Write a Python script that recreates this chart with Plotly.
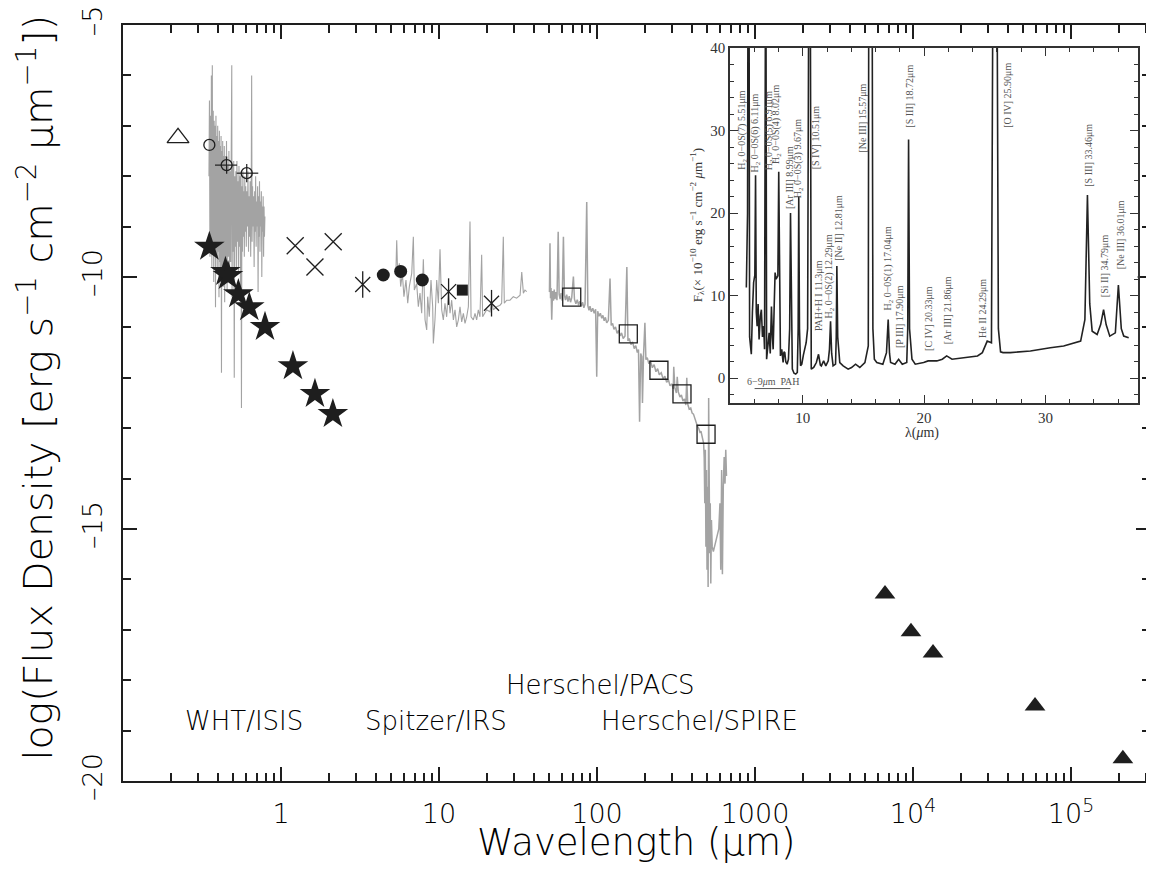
import plotly.graph_objects as go

# ---------------- main SED data ----------------
# optical (WHT/ISIS) spectrum: wavelength [um], log flux
opt_wl = [0.3500,0.3525,0.3550,0.3575,0.3600,0.3625,0.3650,0.3675,0.3700,0.3725,0.3750,0.3775,0.3800,0.3825,0.3850,0.3875,0.3900,0.3925,0.3950,0.3975,0.4000,0.4025,0.4050,0.4075,0.4100,0.4125,0.4150,0.4175,0.4200,0.4225,0.4250,0.4275,0.4300,0.4325,0.4350,0.4375,0.4400,
          0.444,0.448,0.452,0.456,0.460,0.464,0.468,0.472,0.476,0.480,0.484,0.488,0.490,0.494,0.498,0.502,0.506,0.510,0.514,0.518,0.522,0.526,0.530,0.534,0.538,0.542,0.546,0.550,0.554,0.558,0.562,0.566,0.570,0.574,0.578,0.582,0.586,0.590,0.594,0.598,
          0.603,0.608,0.613,0.618,0.623,0.628,0.633,0.638,0.643,0.648,0.652,0.656,0.661,0.666,0.671,0.676,0.681,0.686,0.691,0.696,0.701,0.706,0.711,0.716,0.721,0.726,0.731,0.736,0.741,0.746,0.751,0.756,0.761,0.766,0.771,0.776,0.781,0.786,0.791]
opt_flux = [-8.0,-6.5,-9.6,-6.8,-9.3,-6.0,-9.8,-5.8,-9.5,-6.7,-10.1,-6.9,-9.4,-7.0,-10.6,-6.8,-9.6,-7.2,-9.9,-7.0,-9.5,-7.3,-10.4,-7.1,-9.7,-7.4,-9.9,-7.2,-11.9,-7.5,-9.8,-7.3,-10.2,-7.6,-9.9,-7.4,-10.5,
            -7.6,-9.8,-7.3,-10.3,-7.8,-9.6,-7.5,-10.1,-7.9,-9.7,-7.6,-5.8,-10.4,-7.8,-9.5,-7.7,-12.0,-8.0,-9.4,-7.9,-9.8,-7.7,-9.3,-8.1,-9.9,-7.8,-9.4,-8.0,-10.2,-7.9,-12.6,-8.2,-9.5,-7.9,-9.2,-8.3,-9.6,-8.0,-9.1,-8.2,
            -9.4,-8.3,-9.0,-7.9,-9.5,-8.4,-9.2,-8.1,-9.6,-8.3,-6.0,-9.3,-8.2,-9.0,-8.4,-9.8,-8.3,-9.1,-8.0,-9.4,-8.5,-9.0,-8.2,-10.3,-8.4,-9.2,-8.1,-9.5,-8.5,-9.0,-8.3,-10.0,-8.6,-9.1,-8.4,-9.6,-8.6,-9.2,-8.8]

# Spitzer/IRS spectrum
irs_wl = [5.34,5.40,5.48,5.61,5.72,5.86,6.00,6.18,6.34,6.49,6.72,6.88,6.98,7.22,7.40,7.58,7.77,7.96,8.16,8.36,
          8.48,8.68,8.90,9.12,9.21,9.43,9.67,9.91,10.15,10.40,10.65,10.91,11.18,11.46,11.74,12.03,12.33,12.63,12.94,13.26,
          13.58,13.92,14.26,14.61,14.97,15.34,15.71,15.95,16.49,16.90,17.31,17.74,18.17,18.62,18.89,19.55,20.03,21.03,21.54,22.07,
          23.18,24.32,24.92,25.53,25.9,26.82,28.14,29.53,31.0,32.6,33.4,34.2,35.0,35.9]
irs_flux = [-9.86,-9.27,-9.99,-9.73,-10.19,-9.93,-10.39,-10.06,-10.52,-10.19,-9.93,-9.20,-10.26,-10.13,-10.59,-10.32,-10.72,-9.65,-10.85,-11.05,
            -10.39,-10.79,-10.06,-10.59,-11.32,-10.85,-10.06,-10.52,-9.45,-10.65,-10.85,-10.52,-10.79,-10.29,-10.72,-10.46,-10.85,-10.65,-10.99,-10.85,
            -10.59,-10.89,-10.72,-10.92,-10.79,-10.59,-8.90,-10.79,-10.85,-10.72,-10.85,-10.65,-10.79,-9.56,-10.79,-10.72,-10.65,-10.69,-10.49,-10.65,
            -10.59,-10.56,-10.52,-9.20,-10.52,-10.46,-10.46,-10.39,-10.42,-10.36,-9.90,-10.32,-10.26,-10.29]

# Herschel PACS + SPIRE spectrum
fir_wl = [50.0,50.4,50.8,51.2,51.7,52.3,53.0,53.6,54.2,55.0,55.8,56.8,57.6,58.4,59.3,60.2,61.3,62.2,63.2,64.3,65.5,66.7,68.0,69.2,70.9,72.0,73.5,75.0,76.5,78.0,79.5,81.0,82.6,84.0,86.1,87.5,89.0,90.3,92.0,94.0,96.0,98.0,99.6,101.0,103.0,105.0,107.2,109.0,111.0,113.0,115.2,118.0,120.9,123.0,125.5,128.0,131.0,134.0,137.0,140.0,143.0,146.5,150.4,154.5,157.0,160.0,164.0,168.0,172.0,176.0,180.0,183.0,186.0,189.0,192.0,194.0,197.0,201.0,204.0,208.0,213.0,218.0,224.0,230.0,236.0,242.0,248.0,255.0,262.0,269.0,276.0,283.0,290.0,297.0,304.0,306.0,311.0,318.0,322.0,327.0,335.0,342.0,350.0,358.0,365.0,370.0,375.0,383.0,392.0,400.0,408.0,417.0,425.0,432.0,440.0,448.0,455.0,462.0,468.0,473.0,477.0,481.0,485.0,489.0,493.0,497.0,501.0,505.0,509.0,513.0,517.0,521.0,525.0,530.0,536.0,545.0,560.0,575.0,590.0,600.0,607.0,615.0,622.0,630.0,638.0,646.0,653.0,660.0]
fir_flux = [-10.30,-9.33,-10.42,-10.22,-10.85,-10.28,-10.47,-10.25,-10.44,-10.30,-10.46,-9.10,-10.34,-10.44,-10.32,-10.47,-9.20,-10.36,-10.46,-10.35,-10.49,-10.38,-10.50,-10.41,-9.99,-10.44,-10.53,-10.45,-10.56,-10.48,-10.58,-10.50,-10.61,-10.54,-8.51,-10.57,-10.66,-10.58,-10.69,-10.62,-10.72,-10.64,-11.98,-10.68,-10.78,-10.72,-10.82,-10.76,-10.87,-10.80,-10.91,-10.86,-10.03,-10.96,-10.92,-11.04,-10.99,-11.12,-11.06,-11.17,-11.11,-11.22,-11.17,-9.80,-11.27,-11.22,-11.34,-11.29,-11.42,-11.36,-11.50,-11.44,-12.87,-11.52,-11.58,-12.50,-11.56,-10.91,-11.64,-11.60,-11.72,-11.66,-11.80,-11.74,-11.88,-11.82,-11.94,-11.90,-12.02,-11.97,-12.09,-12.04,-12.16,-12.12,-12.22,-11.78,-12.20,-12.30,-11.98,-12.28,-12.38,-12.34,-12.46,-12.42,-12.54,-12.00,-12.52,-12.62,-12.60,-12.70,-12.72,-12.82,-12.88,-12.96,-13.00,-13.08,-13.06,-13.18,-13.22,-13.30,-13.59,-14.49,-13.43,-15.35,-13.83,-15.81,-14.16,-16.15,-12.40,-14.82,-15.48,-14.49,-16.08,-14.82,-15.35,-15.45,-15.30,-15.15,-15.00,-14.49,-15.81,-13.83,-15.90,-14.16,-13.57,-14.10,-13.43,-13.95]

# photometry
tri_open_wl = [0.223]
tri_open_f = [-7.24]
circ_open_wl = [0.352, 0.453, 0.607]
circ_open_f = [-7.38, -7.78, -7.94]
circ_err_wl_minus = [0.0, 0.071, 0.083]
circ_err_wl_plus = [0.0, 0.074, 0.111]
circ_err_f = [0.0, 0.17, 0.18]
star_wl = [0.352, 0.445, 0.462, 0.537, 0.630, 0.792, 1.19, 1.64, 2.13]
star_f = [-9.40, -9.90, -9.98, -10.34, -10.60, -10.99, -11.77, -12.32, -12.72]
cross_wl = [1.23, 1.64, 2.14]
cross_f = [-9.38, -9.80, -9.30]
aster_wl = [3.29, 11.5, 21.5]
aster_f = [-10.15, -10.29, -10.52]
dot_wl = [4.44, 5.72, 7.84]
dot_f = [-9.96, -9.89, -10.06]
sq_fill_wl = [14.05]
sq_fill_f = [-10.26]
sq_open_wl = [69.2, 157.8, 246.6, 345.0, 490.0]
sq_open_f = [-10.40, -11.13, -11.85, -12.32, -13.12]
tri_fill_wl = [6650, 9710, 13390, 59200, 213000]
tri_fill_f = [-16.29, -17.04, -17.46, -18.51, -19.56]

x_tickvals = [1, 10, 100, 1000, 1e4, 1e5]
x_ticktext = ["1", "10", "100", "1000", "10<sup>4</sup>", "10<sup>5</sup>"]
y_tickvals = [-20, -15, -10, -5]
y_ticktext = ["–20", "–15", "–10", "–5"]

# ---------------- inset (IRS spectrum, linear) ----------------
ins_wl = [5.35,5.45,5.50,5.56,5.62,5.68,5.76,5.85,5.95,6.05,6.11,6.17,6.24,6.32,6.40,6.50,6.59,6.68,6.78,6.85,6.89,6.95,7.02,7.12,7.23,7.32,7.42,7.50,7.56,7.65,7.72,7.80,7.89,7.95,8.02,8.09,8.16,8.27,8.38,8.45,8.52,8.60,8.71,8.82,8.92,8.99,9.06,9.14,9.28,9.42,9.55,9.62,9.67,9.73,9.82,9.92,10.05,10.14,10.28,10.40,10.52,10.60,10.66,10.70,10.90,11.12,11.30,11.45,11.53,11.72,11.90,12.10,12.20,12.29,12.38,12.50,12.70,12.76,12.81,12.88,13.05,13.33,13.74,14.02,14.35,14.70,15.12,15.40,15.45,15.70,15.78,15.90,16.10,16.60,16.90,17.04,17.15,17.24,17.60,17.90,18.20,18.57,18.65,18.72,18.80,19.00,19.27,19.96,20.33,21.05,21.50,21.86,22.30,23.30,24.40,24.80,25.20,25.55,25.70,25.98,26.12,26.30,26.50,27.10,28.76,30.40,31.50,32.90,33.25,33.46,33.65,33.85,34.26,34.55,34.79,35.00,35.30,35.76,36.01,36.25,36.45,36.86]
ins_flux = [11.0,20.0,60.0,60.0,5.0,3.5,2.9,8.0,11.6,12.5,24.6,8.0,6.3,9.0,4.7,7.5,8.3,5.0,6.3,3.5,60.0,60.0,2.3,4.0,5.5,3.0,8.7,5.0,3.5,9.0,12.8,12.0,12.2,12.4,25.0,8.0,2.7,3.5,1.9,3.2,3.1,2.0,1.7,2.3,6.0,20.0,5.0,1.1,0.6,0.5,0.7,6.0,22.0,6.0,1.5,1.7,2.8,3.5,4.3,6.0,60.0,60.0,3.0,1.1,1.3,1.9,2.9,1.6,1.5,2.1,1.5,2.1,3.5,6.9,3.0,1.5,1.7,5.0,13.6,5.0,1.9,1.5,1.1,1.3,1.7,1.3,1.9,3.9,60.0,60.0,6.0,2.3,1.9,1.7,3.1,7.1,3.0,1.9,1.7,2.3,1.7,1.9,6.0,28.9,6.0,2.3,1.7,1.9,2.1,2.1,2.3,2.7,2.3,2.5,2.7,3.1,4.5,4.3,60.0,60.0,6.0,3.2,3.1,3.1,3.3,3.7,3.9,4.5,7.1,22.2,9.0,5.7,5.3,6.5,8.3,6.5,5.1,5.5,11.3,6.0,5.1,4.9]

ins_labels = [
    ("H<sub>2</sub> 0−0S(7) 5.51μm", 5.02, 25.0),
    ("H<sub>2</sub> 0−0S(6) 6.11μm", 6.12, 24.7),
    ("H<sub>2</sub> 0−0S(5) 6.91μm", 7.21, 25.0),
    ("H<sub>2</sub> 0−0S(4) 8.02μm", 7.83, 25.7),
    ("[Ar III] 8.99μm", 8.95, 20.2),
    ("H<sub>2</sub> 0−0S(3) 9.67μm", 9.67, 21.6),
    ("[S IV] 10.51μm", 11.05, 25.0),
    ("PAH+H I 11.3μm", 11.32, 5.5),
    ("H<sub>2</sub> 0−0S(2) 12.29μm", 12.17, 7.0),
    ("[Ne II] 12.81μm", 12.92, 14.0),
    ("[Ne III] 15.57μm", 14.93, 27.1),
    ("H<sub>2</sub> 0−0S(1) 17.04μm", 17.05, 8.0),
    ("[P III] 17.90μm", 17.96, 3.4),
    ("[S III] 18.72μm", 18.79, 30.1),
    ("[C IV] 20.33μm", 20.30, 3.1),
    ("[Ar III] 21.86μm", 21.90, 3.9),
    ("He II 24.29μm", 24.85, 4.7),
    ("[O IV] 25.90μm", 26.88, 30.1),
    ("[S III] 33.46μm", 33.58, 23.0),
    ("[Si II] 34.79μm", 34.88, 9.6),
    ("[Ne III] 36.01μm", 36.14, 13.0),
]

FONT = "'DejaVu Sans', sans-serif"
FW = 200
SERIF = "'Liberation Serif', 'DejaVu Serif', serif"
INK = "#1e1e1e"
TXT = "#000000"
GRAY = "#a3a3a3"

fig = go.Figure()

# spectra
for wl, fl, w in [(opt_wl, opt_flux, 1.1), (irs_wl, irs_flux, 1.1), (fir_wl, fir_flux, 1.5)]:
    fig.add_trace(go.Scatter(x=wl, y=fl, mode="lines", line=dict(color=GRAY, width=w), hoverinfo="skip"))

def mk(x, y, symbol, size, filled=True, lw=1.4, **kw):
    if filled:
        m = dict(symbol=symbol, size=size, color=INK, line=dict(width=0))
    else:
        m = dict(symbol=symbol, size=size, color=INK, line=dict(color=INK, width=lw))
    fig.add_trace(go.Scatter(x=x, y=y, mode="markers", marker=m, **kw))

mk(tri_open_wl, tri_open_f, "triangle-up-open", 19, filled=False, lw=1.3)
mk(circ_open_wl, circ_open_f, "circle-open", 11, filled=False, lw=1.3,
   error_x=dict(type="data", symmetric=False, array=circ_err_wl_plus, arrayminus=circ_err_wl_minus,
                color=INK, thickness=1.2, width=0),
   error_y=dict(type="data", array=circ_err_f, color=INK, thickness=1.2, width=0))
mk(star_wl, star_f, "star", 23)
mk(cross_wl, cross_f, "x-thin-open", 17, filled=False, lw=1.3)
mk(aster_wl, aster_f, "x-thin-open", 15, filled=False, lw=1.3)
mk(aster_wl, aster_f, "line-ns-open", 19, filled=False, lw=1.3)
mk(dot_wl, dot_f, "circle", 13)
mk(sq_fill_wl, sq_fill_f, "square", 11)
mk(sq_open_wl, sq_open_f, "square-open", 18, filled=False, lw=1.3)
mk(tri_fill_wl, tri_fill_f, "triangle-up", 18)

# inset spectrum
fig.add_trace(go.Scatter(x=ins_wl, y=ins_flux, mode="lines", line=dict(color="#222", width=1.6),
                         xaxis="x2", yaxis="y2", hoverinfo="skip"))

minor_x = [m * 10 ** d for d in range(-1, 6) for m in range(2, 10) if m * 10 ** d < 3.2e5]

# page body has an 8px default margin, so the figure is sized to fit the 1154x871 window
fig.update_layout(
    width=1146, height=863,
    margin=dict(l=115, r=4, t=17, b=90),
    paper_bgcolor="white", plot_bgcolor="white",
    showlegend=False,
    font=dict(family=FONT, color=TXT, weight=FW),
    xaxis=dict(type="log", range=[-1, 5.5], tickmode="array", tickvals=x_tickvals, ticktext=x_ticktext,
               ticks="inside", ticklen=14, tickwidth=1.5, tickcolor=INK, automargin=False,
               showline=True, linecolor=INK, linewidth=2, mirror="ticks",
               showgrid=False, zeroline=False, tickfont=dict(size=27, family=FONT, weight=FW, color=TXT),
               ticklabelstandoff=8, ticklabeloverflow="allow",
               minor=dict(tickmode="array", tickvals=minor_x, ticks="inside", ticklen=8,
                          tickwidth=1.5, tickcolor=INK, showgrid=False)),
    yaxis=dict(range=[-20, -5], tickmode="array", tickvals=y_tickvals, ticktext=y_ticktext,
               tickangle=-90, ticks="inside", ticklen=14, tickwidth=1.5, tickcolor=INK, automargin=False,
               showline=True, linecolor=INK, linewidth=2, mirror="ticks",
               showgrid=False, zeroline=False, tickfont=dict(size=27, family=FONT, weight=FW, color=TXT),
               ticklabelstandoff=8, ticklabeloverflow="allow",
               minor=dict(dtick=1, tick0=0, ticks="inside", ticklen=8, tickwidth=1.5,
                          tickcolor=INK, showgrid=False)),
    xaxis2=dict(domain=[0.591, 0.988], anchor="y2", range=[4, 37.6], dtick=10, tick0=0,
                ticks="inside", ticklen=8, tickwidth=1.3, tickcolor="#333", automargin=False,
                showline=True, linecolor="#333", linewidth=1.6, mirror="ticks",
                showgrid=False, zeroline=False, tickfont=dict(size=15, family=SERIF, color="#333"),
                minor=dict(dtick=2, tick0=0, ticks="inside", ticklen=4, tickwidth=1.2, tickcolor="#333")),
    yaxis2=dict(domain=[0.5, 0.9696], anchor="x2", range=[-3, 40], dtick=10, tick0=0,
                ticks="inside", ticklen=8, tickwidth=1.3, tickcolor="#333", automargin=False,
                showline=True, linecolor="#333", linewidth=1.6, mirror="ticks",
                showgrid=False, zeroline=False, tickfont=dict(size=15, family=SERIF, color="#333"),
                minor=dict(dtick=2, tick0=0, ticks="inside", ticklen=4, tickwidth=1.2, tickcolor="#333")),
)

ann = []
# axis titles
ann.append(dict(text="Wavelength (μm)", xref="paper", yref="paper", x=0.4995, y=-0.082,
                xanchor="center", yanchor="middle", showarrow=False,
                font=dict(size=37, family=FONT, weight=FW, color=TXT)))
ann.append(dict(text="log(Flux Density [erg s<sup>−1</sup> cm<sup>−2</sup> μm<sup>−1</sup>])",
                xref="paper", yref="paper", x=-0.085, y=0.52, textangle=-90,
                xanchor="center", yanchor="middle", showarrow=False,
                font=dict(size=39.5, family=FONT, weight=FW, color=TXT)))
# instrument labels
for txt, lx, ly in [("WHT/ISIS", -0.234, -18.81), ("Spitzer/IRS", 0.981, -18.81),
                    ("Herschel/PACS", 2.019, -18.10), ("Herschel/SPIRE", 2.646, -18.81)]:
    ann.append(dict(text=txt, x=lx, y=ly, xref="x", yref="y", showarrow=False,
                    xanchor="center", yanchor="middle", font=dict(size=26, family=FONT, weight=FW, color=TXT)))
# inset line labels
for txt, lx, ly in ins_labels:
    ann.append(dict(text=txt, x=lx, y=ly, xref="x2", yref="y2", showarrow=False, textangle=-90,
                    xanchor="center", yanchor="bottom", font=dict(size=10, family=SERIF, color="#555")))
ann.append(dict(text="6−9<i>μ</i>m  PAH", x=7.55, y=-0.45, xref="x2", yref="y2", showarrow=False,
                xanchor="center", yanchor="middle", font=dict(size=10, family=SERIF, color="#555")))
# inset titles
ann.append(dict(text="λ(<i>μ</i>m)", xref="paper", yref="paper", x=0.778, y=0.460, showarrow=False,
                xanchor="center", yanchor="middle", font=dict(size=14, family=SERIF, color="#333")))
ann.append(dict(text="F<sub>λ</sub>(× 10<sup>−10</sup> erg s<sup>−1</sup> cm<sup>−2</sup> <i>μ</i>m<sup>−1</sup>)",
                xref="paper", yref="paper", x=0.559, y=0.7354, textangle=-90, showarrow=False,
                xanchor="center", yanchor="middle", font=dict(size=13, family=SERIF, color="#333")))
fig.update_layout(annotations=ann)

fig.add_shape(type="line", xref="x2", yref="y2", x0=6.03, x1=8.98, y0=-1.25, y1=-1.25,
              line=dict(color="#555", width=1))

fig.write_html("out.html")
